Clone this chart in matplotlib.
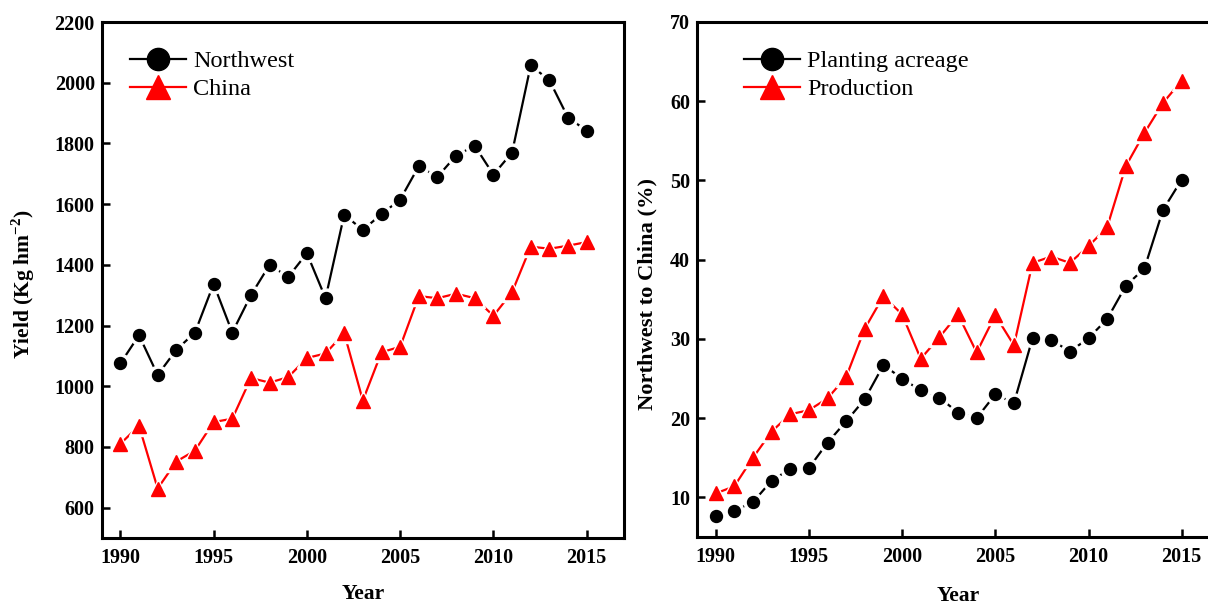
import matplotlib
matplotlib.use("Agg")
import matplotlib.pyplot as plt
from matplotlib.lines import Line2D

years = list(range(1990, 2016))

northwest_yield = [1075, 1168, 1037, 1120, 1177, 1337, 1177, 1300, 1400, 1360,
                   1438, 1290, 1565, 1515, 1567, 1615, 1725, 1690, 1760, 1792,
                   1697, 1770, 2057, 2008, 1885, 1842]
china_yield = [810, 870, 663, 752, 788, 882, 893, 1027, 1012, 1030,
               1093, 1108, 1175, 953, 1112, 1130, 1297, 1290, 1305, 1290,
               1232, 1310, 1460, 1453, 1463, 1475]

acreage_pct = [7.7, 8.3, 9.4, 12.1, 13.6, 13.7, 16.9, 19.6, 22.4, 26.7,
               25.0, 23.5, 22.6, 20.7, 20.0, 23.0, 21.9, 30.1, 29.9, 28.4,
               30.1, 32.5, 36.7, 38.9, 46.3, 50.1]
production_pct = [10.5, 11.4, 15.0, 18.3, 20.5, 21.0, 22.5, 25.2, 31.3, 35.4,
                  33.1, 27.5, 30.2, 33.1, 28.3, 33.0, 29.2, 39.6, 40.4, 39.6,
                  41.7, 44.1, 51.8, 56.0, 59.8, 62.6]

x_ticks = [1990, 1995, 2000, 2005, 2010, 2015]
left_yticks = [600, 800, 1000, 1200, 1400, 1600, 1800, 2000, 2200]
right_yticks = [10, 20, 30, 40, 50, 60, 70]

serif = ["Liberation Serif", "DejaVu Serif"]
plt.rcParams["font.family"] = serif
plt.rcParams["mathtext.fontset"] = "custom"
plt.rcParams["mathtext.rm"] = "Liberation Serif"
plt.rcParams["mathtext.bf"] = "Liberation Serif:bold"

W, H = 1208, 605
fig = plt.figure(figsize=(W / 100, H / 100), dpi=100)
fig.patch.set_facecolor("white")

ax1 = fig.add_axes([101.7 / W, (H - 538) / H, 522.3 / W, 516 / H])
ax2 = fig.add_axes([697 / W, (H - 537) / H, 522 / W, 515 / H])


def draw_series(ax, x, y, color, marker, ms):
    ax.plot(x, y, color=color, lw=1.6, zorder=2)
    ax.plot(x, y, ls="none", marker=marker, ms=ms + 5, mfc="white",
            mec="white", zorder=3)
    ax.plot(x, y, ls="none", marker=marker, ms=ms, mfc=color, mec=color,
            zorder=4)


def style_axes(ax, yticks, ylim):
    ax.set_xlim(1989, 2017)
    ax.set_ylim(*ylim)
    ax.set_xticks(x_ticks)
    ax.set_yticks(yticks)
    for s in ax.spines.values():
        s.set_linewidth(2.2)
    ax.tick_params(direction="in", length=6, width=1.8, labelsize=14.5,
                   top=False, right=False)
    ax.tick_params(axis="x", pad=7)
    ax.tick_params(axis="y", pad=5)
    for lab in ax.get_xticklabels() + ax.get_yticklabels():
        lab.set_fontweight("bold")
    ax.set_xlabel("Year", fontsize=15.5, fontweight="bold")


# Left panel
draw_series(ax1, years, northwest_yield, "black", "o", 8.6)
draw_series(ax1, years, china_yield, "#ff0000", "^", 9.5)
style_axes(ax1, left_yticks, (500, 2200))
ax1.set_ylabel(r"Yield (Kg hm$^{\mathbf{-2}}$)", fontsize=15.5, fontweight="bold")
ax1.yaxis.set_label_coords(-0.124, 0.492)
ax1.xaxis.set_label_coords(0.5, -0.089)

h1 = [Line2D([], [], color="black", lw=1.6, marker="o", ms=16),
      Line2D([], [], color="#ff0000", lw=1.6, marker="^", ms=17)]
ax1.legend(h1, ["Northwest", "China"], loc="upper left",
           bbox_to_anchor=(0.054, 0.945), frameon=False, fontsize=17.5,
           handlelength=2.3, handletextpad=0.3, labelspacing=0.25,
           borderpad=0, borderaxespad=0)

# Right panel
draw_series(ax2, years, acreage_pct, "black", "o", 8.6)
draw_series(ax2, years, production_pct, "#ff0000", "^", 9.5)
style_axes(ax2, right_yticks, (5, 70))
ax2.set_ylabel("Northwest to China (%)", fontsize=16.2, fontweight="bold")
ax2.yaxis.set_label_coords(-0.075, 0.472)
ax2.xaxis.set_label_coords(0.5, -0.095)

h2 = [Line2D([], [], color="black", lw=1.6, marker="o", ms=16),
      Line2D([], [], color="#ff0000", lw=1.6, marker="^", ms=17)]
ax2.legend(h2, ["Planting acreage", "Production"], loc="upper left",
           bbox_to_anchor=(0.09, 0.945), frameon=False, fontsize=17.5,
           handlelength=2.3, handletextpad=0.3, labelspacing=0.25,
           borderpad=0, borderaxespad=0)

fig.savefig("out.png", dpi=100, facecolor="white")
